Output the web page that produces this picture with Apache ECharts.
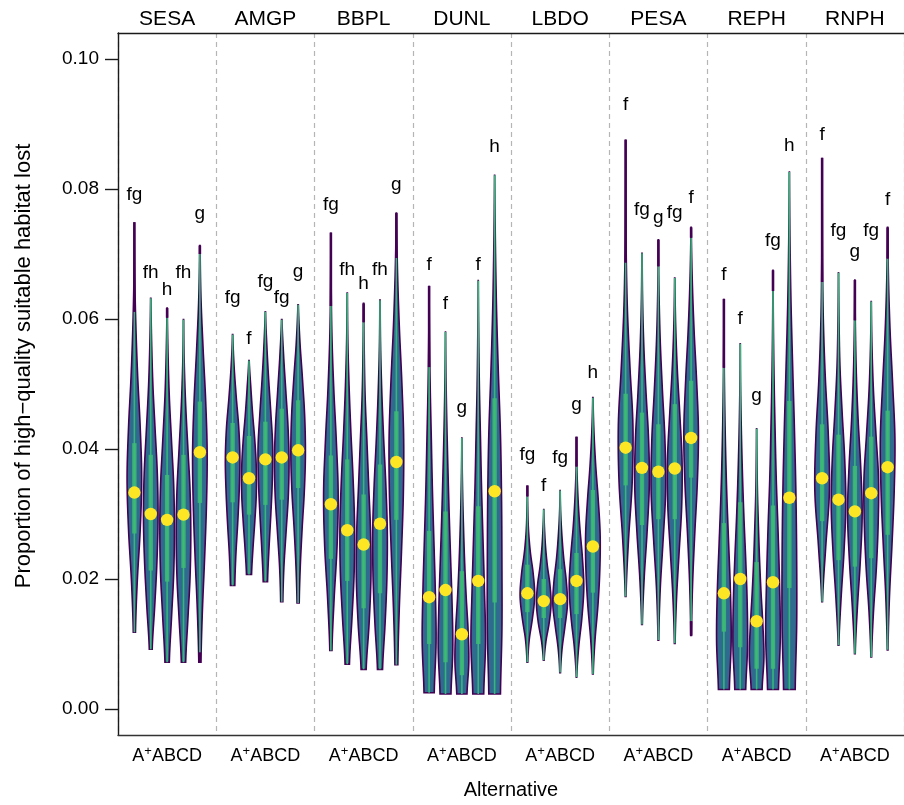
<!DOCTYPE html>
<html><head><meta charset="utf-8">
<script src="https://cdn.jsdelivr.net/npm/echarts@6/dist/echarts.min.js"></script>
<style>html,body{margin:0;padding:0;background:#fff;overflow:hidden}#c{width:904px;height:805px}</style>
</head><body><div id="c"></div>
<script>
// ---------- data (order of alternatives: A+, A, B, C, D) ----------
const species = ['SESA','AMGP','BBPL','DUNL','LBDO','PESA','REPH','RNPH'];
const alternatives = ['A+','A','B','C','D'];
const yTicks = [0, 0.02, 0.04, 0.06, 0.08, 0.10];

const mins = [
  [0.0118,0.0092,0.0072,0.0072,0.0072],
  [0.0190,0.0207,0.0196,0.0165,0.0163],
  [0.0090,0.0069,0.0061,0.0061,0.0068],
  [0.0025,0.0023,0.0023,0.0023,0.0023],
  [0.0072,0.0075,0.0056,0.0049,0.0054],
  [0.0173,0.0130,0.0106,0.0101,0.0113],
  [0.0030,0.0030,0.0030,0.0030,0.0030],
  [0.0165,0.0098,0.0085,0.0080,0.0091]];
const maxs = [
  [0.0749,0.0632,0.0617,0.0599,0.0713],
  [0.0576,0.0536,0.0611,0.0599,0.0622],
  [0.0733,0.0640,0.0624,0.0629,0.0763],
  [0.0651,0.0580,0.0417,0.0659,0.0821],
  [0.0344,0.0307,0.0336,0.0419,0.0479],
  [0.0876,0.0701,0.0722,0.0663,0.0741],
  [0.0631,0.0562,0.0431,0.0675,0.0826],
  [0.0848,0.0671,0.0660,0.0627,0.0741]];
const whiskerTop = [
  [0.0611,0.0632,0.0602,0.0599,0.0700],
  [0.0576,0.0536,0.0611,0.0599,0.0622],
  [0.0620,0.0640,0.0595,0.0629,0.0694],
  [0.0526,0.0580,0.0417,0.0659,0.0821],
  [0.0327,0.0307,0.0336,0.0373,0.0479],
  [0.0687,0.0701,0.0681,0.0663,0.0725],
  [0.0525,0.0562,0.0431,0.0643,0.0826],
  [0.0657,0.0671,0.0598,0.0627,0.0693]];
const whiskerBottom = [
  [0.0118,0.0092,0.0072,0.0072,0.0087],
  [0.0190,0.0207,0.0196,0.0165,0.0163],
  [0.0090,0.0069,0.0061,0.0061,0.0068],
  [0.0025,0.0023,0.0023,0.0023,0.0023],
  [0.0072,0.0075,0.0056,0.0049,0.0054],
  [0.0173,0.0130,0.0106,0.0101,0.0135],
  [0.0030,0.0030,0.0030,0.0030,0.0030],
  [0.0165,0.0098,0.0085,0.0080,0.0091]];
const q3s = [
  [0.0409,0.0391,0.0360,0.0391,0.0473],
  [0.0440,0.0420,0.0442,0.0462,0.0475],
  [0.0390,0.0384,0.0330,0.0376,0.0458],
  [0.0274,0.0304,0.0212,0.0312,0.0478],
  [0.0222,0.0200,0.0215,0.0240,0.0337],
  [0.0485,0.0456,0.0438,0.0469,0.0505],
  [0.0286,0.0318,0.0226,0.0313,0.0474],
  [0.0438,0.0422,0.0374,0.0419,0.0459]];
const q1s = [
  [0.0270,0.0213,0.0196,0.0217,0.0317],
  [0.0318,0.0299,0.0314,0.0322,0.0340],
  [0.0231,0.0197,0.0155,0.0178,0.0291],
  [0.0100,0.0072,0.0052,0.0100,0.0164],
  [0.0149,0.0140,0.0140,0.0146,0.0179],
  [0.0344,0.0283,0.0292,0.0292,0.0356],
  [0.0119,0.0095,0.0062,0.0062,0.0186],
  [0.0289,0.0229,0.0219,0.0232,0.0268]];
const medians = [
  [0.0333,0.0300,0.0291,0.0299,0.0395],
  [0.0387,0.0355,0.0384,0.0387,0.0398],
  [0.0315,0.0275,0.0253,0.0285,0.0380],
  [0.0172,0.0183,0.0115,0.0197,0.0335],
  [0.0178,0.0166,0.0169,0.0197,0.0250],
  [0.0402,0.0371,0.0365,0.0370,0.0417],
  [0.0178,0.0200,0.0135,0.0195,0.0325],
  [0.0355,0.0322,0.0304,0.0332,0.0372]];
const letters = [
  ['fg','fh','h','fh','g'],
  ['fg','f','fg','fg','g'],
  ['fg','fh','h','fh','g'],
  ['f','f','g','f','h'],
  ['fg','f','fg','g','h'],
  ['f','fg','g','fg','f'],
  ['f','f','g','fg','h'],
  ['f','fg','g','fg','f']];
const letterY = [
  [0.0791,0.0671,0.0645,0.0671,0.0762],
  [0.0633,0.0570,0.0658,0.0632,0.0672],
  [0.0775,0.0676,0.0654,0.0676,0.0806],
  [0.0683,0.0624,0.0463,0.0683,0.0865],
  [0.0391,0.0344,0.0386,0.0468,0.0518],
  [0.0930,0.0768,0.0755,0.0764,0.0787],
  [0.0668,0.0601,0.0482,0.0721,0.0867],
  [0.0883,0.0735,0.0703,0.0735,0.0784]];
// relative violin widths at 9 evenly spaced levels from min to max
const densities = [
  [[0.15,0.4,0.8,1.0,0.8,0.45,0.2,0.05,0],
   [0.2,0.55,0.85,1.0,0.9,0.6,0.3,0.12,0.02],
   [0.3,0.6,0.9,1.0,0.9,0.6,0.3,0.12,0.02],
   [0.3,0.6,0.9,1.0,0.9,0.6,0.3,0.1,0.02],
   [0.15,0.35,0.65,0.9,1.0,0.8,0.45,0.15,0.03]],
  [[0.3,0.45,0.7,0.9,1.0,0.85,0.5,0.2,0.02],
   [0.35,0.55,0.8,1.0,1.0,0.8,0.5,0.25,0.03],
   [0.3,0.5,0.75,0.95,1.0,0.75,0.45,0.2,0.02],
   [0.15,0.3,0.6,0.9,1.0,0.85,0.55,0.25,0.03],
   [0.15,0.3,0.55,0.85,1.0,0.9,0.6,0.25,0.03]],
  [[0.15,0.45,0.85,1.0,0.75,0.4,0.15,0.04,0],
   [0.3,0.65,0.95,1.0,0.8,0.5,0.25,0.08,0.02],
   [0.35,0.75,1.0,0.95,0.7,0.45,0.2,0.08,0.02],
   [0.35,0.7,0.95,1.0,0.8,0.5,0.25,0.08,0.02],
   [0.2,0.4,0.7,0.95,1.0,0.75,0.4,0.15,0.02]],
  [[0.7,0.95,0.85,0.65,0.45,0.3,0.15,0.05,0],
   [0.75,1.0,0.9,0.7,0.5,0.33,0.18,0.07,0.01],
   [0.7,0.95,0.85,0.6,0.4,0.25,0.13,0.05,0.01],
   [0.75,1.0,0.85,0.65,0.45,0.3,0.15,0.06,0.01],
   [0.8,1.0,1.0,0.95,0.8,0.5,0.25,0.1,0.01]],
  [[0.05,0.25,0.7,1.0,0.8,0.4,0.15,0.05,0],
   [0.05,0.3,0.75,1.0,0.85,0.5,0.25,0.1,0.01],
   [0.05,0.25,0.65,1.0,0.85,0.5,0.25,0.08,0.01],
   [0.03,0.3,0.75,1.0,0.8,0.45,0.2,0.05,0],
   [0.05,0.3,0.7,0.95,1.0,0.75,0.4,0.15,0.02]],
  [[0.05,0.4,0.9,1.0,0.6,0.25,0.08,0.02,0],
   [0.05,0.3,0.7,1.0,0.9,0.55,0.25,0.08,0.02],
   [0.05,0.25,0.65,1.0,0.9,0.55,0.25,0.08,0.01],
   [0.05,0.25,0.6,0.95,1.0,0.7,0.35,0.12,0.02],
   [0.05,0.2,0.5,0.85,1.0,0.75,0.4,0.15,0.02]],
  [[0.75,1.0,0.9,0.65,0.4,0.22,0.1,0.03,0],
   [0.75,1.0,0.95,0.75,0.5,0.3,0.15,0.05,0.01],
   [0.75,1.0,0.85,0.6,0.4,0.25,0.12,0.05,0.01],
   [0.75,1.0,0.9,0.7,0.45,0.28,0.14,0.05,0.01],
   [0.8,1.0,1.0,0.9,0.7,0.45,0.22,0.08,0.01]],
  [[0.05,0.5,1.0,0.85,0.45,0.18,0.06,0.02,0],
   [0.05,0.35,0.75,1.0,0.85,0.5,0.2,0.07,0.01],
   [0.05,0.35,0.75,1.0,0.8,0.45,0.2,0.07,0.01],
   [0.05,0.3,0.7,0.95,1.0,0.65,0.3,0.1,0.01],
   [0.05,0.25,0.6,0.9,1.0,0.7,0.35,0.12,0.02]]];

// ---------- styling ----------
const FONT = '"Liberation Sans", Arial, Helvetica, sans-serif';
const HALF_W = 7.3;        // px, half width of widest violin
const SLOTS = 6;           // x units per panel

const seriesData = [];
species.forEach((sp, s) => alternatives.forEach((a, k) => {
  seriesData.push([s * SLOTS + k + 1, medians[s][k], s, k]);
}));

function catmull(d, i, u) {
  const n = d.length;
  const p0 = d[Math.max(i - 1, 0)], p1 = d[i], p2 = d[Math.min(i + 1, n - 1)], p3 = d[Math.min(i + 2, n - 1)];
  return 0.5 * (2 * p1 + (-p0 + p2) * u + (2 * p0 - 5 * p1 + 4 * p2 - p3) * u * u + (-p0 + 3 * p1 - 3 * p2 + p3) * u * u * u);
}

function renderItem(params, api) {
  const xv = api.value(0);
  const s = api.value(2), k = api.value(3);
  const mn = mins[s][k], mx = maxs[s][k];
  const cx = api.coord([xv, 0])[0];
  const yOf = v => api.coord([xv, v])[1];
  const d = densities[s][k];
  const n = d.length, steps = 10;
  const right = [], left = [];
  for (let i = 0; i < n - 1; i++) {
    for (let t = 0; t < steps; t++) {
      const u = t / steps;
      const w = Math.max(0, catmull(d, i, u)) * HALF_W;
      const y = yOf(mn + (mx - mn) * (i + u) / (n - 1));
      right.push([cx + w, y]); left.push([cx - w, y]);
    }
  }
  const wl = d[n - 1] * HALF_W, yl = yOf(mx);
  right.push([cx + wl, yl]); left.push([cx - wl, yl]);
  const poly = right.concat(left.reverse());
  const children = [
    { type: 'polygon', shape: { points: poly },
      style: { fill: '#2f6b8e', stroke: '#440154', lineWidth: 1.6 } },
    { type: 'line', shape: { x1: cx, y1: yOf(whiskerBottom[s][k]), x2: cx, y2: yOf(whiskerTop[s][k]) },
      style: { stroke: '#35b779', lineWidth: 1.6 } },
    { type: 'rect', shape: { x: cx - 2.2, y: yOf(q3s[s][k]), width: 4.4, height: yOf(q1s[s][k]) - yOf(q3s[s][k]) },
      style: { fill: '#3dbc74', opacity: 0.85 } },
  ];
  if (mx > whiskerTop[s][k]) children.push({ type: 'line',
      shape: { x1: cx, y1: yOf(whiskerTop[s][k]), x2: cx, y2: yOf(mx) },
      style: { stroke: '#440154', lineWidth: 2.6 } });
  if (mn < whiskerBottom[s][k]) children.push({ type: 'line',
      shape: { x1: cx, y1: yOf(mn), x2: cx, y2: yOf(whiskerBottom[s][k]) },
      style: { stroke: '#440154', lineWidth: 2.6 } });
  children.push({ type: 'circle', shape: { cx: cx, cy: yOf(medians[s][k]), r: 6.2 },
      style: { fill: '#fde725' } });
  children.push({ type: 'text', style: { text: letters[s][k], x: cx, y: yOf(letterY[s][k]),
      align: 'center', verticalAlign: 'middle', font: '19px ' + FONT, fill: '#000' } });
  return { type: 'group', children: children };
}

const chart = echarts.init(document.getElementById('c'), null, { renderer: 'canvas' });
chart.setOption({
  animation: false,
  backgroundColor: '#fff',
  grid: { left: 118, top: 33, width: 793, height: 705, show: false },
  xAxis: [
    { type: 'value', min: 0, max: species.length * SLOTS, interval: SLOTS,
      axisLine: { show: false }, axisTick: { show: false }, axisLabel: { show: false },
      splitLine: { show: true, lineStyle: { color: '#b5b5b5', width: 1.2, type: [5, 4] } } },
    { type: 'category', data: species, position: 'top', boundaryGap: true,
      axisLine: { show: true, lineStyle: { color: '#1a1a1a', width: 1.4 } }, axisTick: { show: false },
      axisLabel: { interval: 0, margin: 3, fontSize: 21, color: '#000', fontFamily: FONT } },
    { type: 'category', data: species.map(() => alternatives.join('|')), position: 'bottom', boundaryGap: true,
      axisLine: { show: true, lineStyle: { color: '#333', width: 1.4 } }, axisTick: { show: false },
      axisLabel: { interval: 0, margin: 10, color: '#000', fontFamily: FONT, fontSize: 18,
        formatter: v => v.split('|').map((t, i) => i === 0 ? '{n|A}{s|+}' : '{n|' + t + '}').join(''),
        rich: { n: { fontSize: 18, fontFamily: FONT, color: '#000', lineHeight: 22 },
                s: { fontSize: 13, fontFamily: FONT, color: '#000', verticalAlign: 'top', lineHeight: 22 } } },
      name: 'Alternative', nameLocation: 'middle', nameGap: 45,
      nameTextStyle: { fontSize: 20, color: '#000', fontFamily: FONT } }
  ],
  yAxis: {
    type: 'value', min: -0.004, max: 0.104,
    axisLine: { show: true, lineStyle: { color: '#1a1a1a', width: 1.4 } },
    splitLine: { show: false },
    axisTick: { show: true, length: 13, customValues: yTicks, lineStyle: { color: '#1a1a1a', width: 1.4 } },
    axisLabel: { show: true, customValues: yTicks, margin: 19, fontSize: 19, color: '#000', fontFamily: FONT,
      formatter: v => v.toFixed(2) },
    name: 'Proportion of high\u2212quality suitable habitat lost', nameLocation: 'middle', nameGap: 83,
    nameRotate: 90, nameTextStyle: { fontSize: 22, color: '#000', fontFamily: FONT, padding: [0, 0, 0, 36] }
  },
  series: [{
    type: 'custom', xAxisIndex: 0, yAxisIndex: 0, clip: false,
    renderItem: renderItem, data: seriesData, encode: { x: 0, y: 1 }
  }]
});
</script></body></html>
